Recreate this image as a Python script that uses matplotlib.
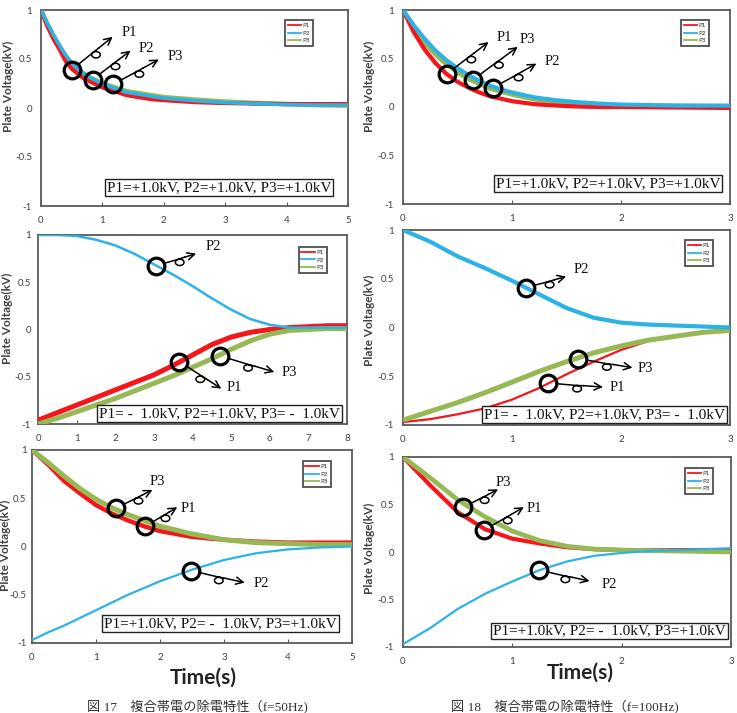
import numpy as np
import matplotlib
matplotlib.use("Agg")
import matplotlib.pyplot as plt
from matplotlib.transforms import ScaledTranslation
from matplotlib.patches import FancyArrowPatch
from matplotlib.lines import Line2D

# ---------------- data ----------------
# Panel 1: f=50Hz, P1=+1, P2=+1, P3=+1
t1 = [0, 0.1, 0.2, 0.3, 0.4, 0.5, 0.6, 0.7, 0.8, 0.9, 1.0, 1.2, 1.4, 1.6, 1.8, 2.0, 2.5, 3.0, 3.5, 4.0, 4.5, 5.0]
p1_1 = [1.0, 0.84, 0.71, 0.60, 0.48, 0.40, 0.35, 0.30, 0.27, 0.24, 0.21, 0.17, 0.13, 0.11, 0.09, 0.08, 0.06, 0.05, 0.045, 0.04, 0.04, 0.04]
p2_1 = [1.0, 0.87, 0.75, 0.64, 0.54, 0.46, 0.40, 0.35, 0.31, 0.28, 0.25, 0.20, 0.16, 0.14, 0.12, 0.10, 0.075, 0.055, 0.045, 0.035, 0.03, 0.03]
p3_1 = [1.0, 0.86, 0.74, 0.63, 0.53, 0.45, 0.39, 0.35, 0.31, 0.28, 0.25, 0.21, 0.17, 0.15, 0.13, 0.11, 0.085, 0.065, 0.05, 0.04, 0.03, 0.025]

# Panel 2: f=100Hz, P1=+1, P2=+1, P3=+1
t2 = [0, 0.1, 0.2, 0.3, 0.4, 0.5, 0.6, 0.7, 0.8, 0.9, 1.0, 1.2, 1.4, 1.6, 1.8, 2.0, 2.5, 3.0]
p1_2 = [1.0, 0.77, 0.59, 0.45, 0.34, 0.26, 0.20, 0.15, 0.11, 0.085, 0.06, 0.03, 0.015, 0.005, 0.0, 0.0, -0.005, -0.01]
p2_2 = [1.0, 0.84, 0.70, 0.58, 0.48, 0.40, 0.33, 0.27, 0.22, 0.18, 0.15, 0.10, 0.07, 0.05, 0.035, 0.025, 0.015, 0.015]
p3_2 = [1.0, 0.81, 0.66, 0.54, 0.44, 0.36, 0.29, 0.24, 0.19, 0.16, 0.13, 0.08, 0.05, 0.035, 0.02, 0.015, 0.01, 0.005]

# Panel 3: f=50Hz, P1=-1, P2=+1, P3=-1
t3 = [0, 0.5, 1, 1.5, 2, 2.5, 3, 3.5, 4, 4.5, 5, 5.5, 6, 6.5, 7, 7.5, 8]
p1_3 = [-0.96, -0.88, -0.80, -0.72, -0.64, -0.56, -0.48, -0.38, -0.27, -0.16, -0.08, -0.03, 0.0, 0.02, 0.03, 0.04, 0.04]
p2_3 = [1.0, 1.0, 0.99, 0.95, 0.89, 0.80, 0.69, 0.58, 0.46, 0.33, 0.21, 0.11, 0.05, 0.02, 0.02, 0.02, 0.02]
p3_3 = [-1.0, -0.94, -0.87, -0.80, -0.73, -0.65, -0.57, -0.49, -0.40, -0.31, -0.21, -0.12, -0.05, -0.01, 0.0, 0.01, 0.01]

# Panel 4: f=100Hz, P1=-1, P2=+1, P3=-1
t4 = [0, 0.25, 0.5, 0.75, 1.0, 1.25, 1.5, 1.75, 2.0, 2.25, 2.5, 2.75, 3.0]
p1_4 = [-0.97, -0.94, -0.89, -0.83, -0.74, -0.62, -0.48, -0.35, -0.23, -0.14, -0.09, -0.05, -0.03]
p2_4 = [1.0, 0.88, 0.73, 0.61, 0.48, 0.34, 0.20, 0.10, 0.05, 0.03, 0.02, 0.01, 0.0]
p3_4 = [-0.95, -0.86, -0.77, -0.67, -0.56, -0.45, -0.35, -0.26, -0.19, -0.13, -0.09, -0.05, -0.03]

# Panel 5: f=50Hz, P1=+1, P2=-1, P3=+1
t5 = [0, 0.25, 0.5, 0.75, 1.0, 1.25, 1.5, 1.75, 2.0, 2.5, 3.0, 3.5, 4.0, 4.5, 5.0]
p1_5 = [1.0, 0.85, 0.68, 0.55, 0.43, 0.34, 0.27, 0.21, 0.16, 0.10, 0.07, 0.05, 0.04, 0.04, 0.04]
p2_5 = [-0.97, -0.89, -0.82, -0.74, -0.66, -0.58, -0.50, -0.43, -0.36, -0.24, -0.14, -0.07, -0.03, -0.01, 0.0]
p3_5 = [1.0, 0.87, 0.73, 0.60, 0.49, 0.40, 0.33, 0.27, 0.21, 0.13, 0.07, 0.04, 0.03, 0.02, 0.02]

# Panel 6: f=100Hz, P1=+1, P2=-1, P3=+1
t6 = [0, 0.25, 0.5, 0.75, 1.0, 1.25, 1.5, 1.75, 2.0, 2.25, 2.5, 2.75, 3.0]
p1_6 = [1.0, 0.70, 0.42, 0.24, 0.14, 0.09, 0.05, 0.03, 0.02, 0.02, 0.02, 0.02, 0.02]
p2_6 = [-0.97, -0.80, -0.60, -0.44, -0.31, -0.19, -0.10, -0.04, -0.01, 0.01, 0.02, 0.03, 0.04]
p3_6 = [1.0, 0.78, 0.55, 0.37, 0.22, 0.12, 0.06, 0.03, 0.02, 0.015, 0.01, 0.005, 0.0]

series_names = ["P1", "P2", "P3"]
xticks_list = [[0, 1, 2, 3, 4, 5], [0, 1, 2, 3], [0, 1, 2, 3, 4, 5, 6, 7, 8],
               [0, 1, 2, 3], [0, 1, 2, 3, 4, 5], [0, 1, 2, 3]]
yticks = [-1, -0.5, 0, 0.5, 1]
ytick_labels = ["-1", "-0.5", "0", "0.5", "1"]

NEG = " - "
box_texts = [
    "P1=+1.0kV, P2=+1.0kV, P3=+1.0kV",
    "P1=+1.0kV, P2=+1.0kV, P3=+1.0kV",
    f"P1={NEG} 1.0kV, P2=+1.0kV, P3={NEG} 1.0kV",
    f"P1={NEG} 1.0kV, P2=+1.0kV, P3={NEG} 1.0kV",
    f"P1=+1.0kV, P2={NEG} 1.0kV, P3=+1.0kV",
    f"P1=+1.0kV, P2={NEG} 1.0kV, P3=+1.0kV",
]
ylabel_text = "Plate Voltage(kV)"
xlabel_text = "Time(s)"
captions = ["図 17　複合帯電の除電特性（f=50Hz)", "図 18　複合帯電の除電特性（f=100Hz)"]

# annotation points: (label, x, y)
marks = [
    [("P1", 0.50, 0.39), ("P2", 0.84, 0.29), ("P3", 1.17, 0.24)],
    [("P1", 0.40, 0.34), ("P3", 0.64, 0.28), ("P2", 0.83, 0.20)],
    [("P2", 3.06, 0.675), ("P1", 3.66, -0.34), ("P3", 4.72, -0.28)],
    [("P2", 1.13, 0.41), ("P3", 1.61, -0.32), ("P1", 1.33, -0.57)],
    [("P3", 1.32, 0.40), ("P1", 1.77, 0.21), ("P2", 2.48, -0.25)],
    [("P3", 0.55, 0.47), ("P1", 0.74, 0.23), ("P2", 1.24, -0.19)],
]

# ---------------- layout / style ----------------
W, H = 737, 713
DPI = 100
fig = plt.figure(figsize=(W / DPI, H / DPI), dpi=DPI)
fig.patch.set_facecolor("white")

# axes rectangles in pixels: left, right, top, bottom
rects = [(41, 348, 10, 206), (403, 730, 10, 204), (38, 347, 235, 424),
         (403, 730, 230, 425), (32, 352, 450, 643), (403, 731, 457, 647)]
ytick_pad = [6.5, 6.5, 5.0, 6.5, 4.0, 6.5]
# arrow end offsets and label offsets (pixels, y up), per mark
arrow_offsets = [
    [((41, 33), (58, 37)), ((38, 29), (54, 31)), ((46, 25), (63, 28))],
    [((42, 32), (58, 37)), ((45, 33), (55, 40)), ((43, 24), (59, 26))],
    [((40, 12), (57, 19)), ((42, -27), (55, -26)), ((54, -16), (69, -17))],
    [((40, 11), (55, 18)), ((54, -9), (67, -10)), ((55, -4), (69, -4))],
    [((36, 18), (41, 26)), ((32, 19), (43, 18)), ((54, -12), (71, -13))],
    [((35, 18), (40, 25)), ((40, 23), (50, 22)), ((51, -11), (71, -14))],
]
legend_anchor = [(0.886, 0.949), (0.936, 0.948), (0.935, 0.937),
                 (0.948, 0.949), (0.934, 0.943), (0.945, 0.942)]
box_anchor = [(0.945, 0.062), (0.970, 0.072), (0.978, 0.02),
              (0.985, 0.02), (0.953, 0.068), (0.985, 0.05)]
ylabel_pos = [(8, 86), (369, 86), (7, 318), (369, 320), (5, 545), (369, 548)]

C_RED = "#f5161b"
C_CYAN = "#2db2e6"
C_GREEN = "#97b955"
colors = [C_RED, C_CYAN, C_GREEN]
lw_sets = [(3.0, 2.6, 3.4), (3.0, 3.0, 3.4), (3.6, 1.8, 3.6),
           (1.6, 3.0, 3.6), (3.2, 1.6, 3.6), (3.0, 1.6, 3.4)]

all_data = [
    (t1, [p1_1, p2_1, p3_1]),
    (t2, [p1_2, p2_2, p3_2]),
    (t3, [p1_3, p2_3, p3_3]),
    (t4, [p1_4, p2_4, p3_4]),
    (t5, [p1_5, p2_5, p3_5]),
    (t6, [p1_6, p2_6, p3_6]),
]

SERIF = ["Liberation Serif", "Noto Sans CJK JP"]
SANS = ["Lato", "DejaVu Sans"]
FRAME = "#595959"


def loop_arrow(ax, cx, cy, end, lab_off, label):
    trans = fig.dpi_scale_trans + ScaledTranslation(cx, cy, ax.transData)
    ex, ey = end
    L = np.hypot(ex, ey)
    ux, uy = ex / L, ey / L
    r0 = 8.5
    sx, sy = ux * r0, uy * r0
    mx, my = sx + 0.45 * (ex - sx), sy + 0.45 * (ey - sy)
    nx, ny = uy, -ux  # points "below" the line
    rl = 3.2
    ccx, ccy = mx + nx * rl * 1.1, my + ny * rl * 1.1
    a0 = np.arctan2(-ny, -nx)
    ang = np.linspace(a0, a0 + 2 * np.pi, 30)
    lx = [sx] + list(ccx + 1.35 * rl * np.cos(ang)) + [mx + ux * 6]
    ly = [sy] + list(ccy + rl * np.sin(ang)) + [my + uy * 6]
    xs = np.array(lx) / DPI
    ys = np.array(ly) / DPI
    ln = Line2D(xs, ys, transform=trans, color="black", lw=1.1, clip_on=False, zorder=6)
    ax.add_artist(ln)
    arr = FancyArrowPatch(((mx + ux * 6) / DPI, (my + uy * 6) / DPI), (ex / DPI, ey / DPI),
                          transform=trans, arrowstyle="->", mutation_scale=13,
                          lw=1.1, color="black", shrinkA=0, shrinkB=0, clip_on=False, zorder=6)
    ax.add_artist(arr)
    ax.plot([cx], [cy], "o", ms=12, mfc="none", mec="black", mew=2.3, zorder=7, clip_on=False)
    ax.annotate(label, xy=(cx, cy), xytext=lab_off, textcoords="offset pixels",
                ha="center", va="center", fontsize=10.5, family=SERIF, color="#111111", zorder=8)


for i, (rect, (t, ys)) in enumerate(zip(rects, all_data)):
    l, r, tp, bt = rect
    ax = fig.add_axes([l / W, 1 - bt / H, (r - l) / W, (bt - tp) / H])
    order = [2, 0, 1] if i in (0, 1) else [0, 2, 1]
    for k in order:
        ax.plot(t, ys[k], color=colors[k], lw=lw_sets[i][k], solid_capstyle="butt",
                label=series_names[k], zorder=3)
    xt = xticks_list[i]
    ax.set_xlim(xt[0], xt[-1])
    ax.set_ylim(-1, 1)
    ax.set_xticks(xt)
    ax.set_xticklabels([str(v) for v in xt], family=SANS)
    ax.set_yticks(yticks)
    ax.set_yticklabels(ytick_labels, family=SANS)
    ax.tick_params(axis="x", length=3, width=0.8, color=FRAME, direction="in",
                   labelsize=7, labelcolor="#404040", pad=7)
    ax.tick_params(axis="y", length=0, labelsize=7, labelcolor="#404040", pad=ytick_pad[i])
    for s in ax.spines.values():
        s.set_color(FRAME)
        s.set_linewidth(1.3)

    leg_handles = [Line2D([], [], color=colors[k], lw=1.3) for k in range(3)]
    leg = ax.legend(leg_handles, series_names, loc="upper right", bbox_to_anchor=legend_anchor[i],
                    prop={"size": 4.5}, handlelength=2.2, handletextpad=0.2, labelspacing=0.35,
                    borderpad=0.45, borderaxespad=0, fancybox=False, frameon=True)
    leg.get_frame().set_edgecolor("#222222")
    leg.get_frame().set_linewidth(1.3)
    for txt in leg.get_texts():
        txt.set_color("#333333")

    bx, by = box_anchor[i]
    ax.text(bx, by, box_texts[i], transform=ax.transAxes, ha="right", va="bottom",
            fontsize=11, family=SERIF, color="#111111", zorder=9,
            bbox=dict(boxstyle="square,pad=0.12", facecolor="white", edgecolor="#222222", lw=1.0))

    for (lab, cx, cy), (end, loff) in zip(marks[i], arrow_offsets[i]):
        loop_arrow(ax, cx, cy, end, loff, lab)

    yx, yy = ylabel_pos[i]
    fig.text(yx / W, 1 - yy / H, ylabel_text, rotation=90, ha="center", va="center",
             fontsize=8.5, fontweight="bold", family=SANS, color="#404040")

# x-axis titles
for xc, yc in [(203, 678), (580, 673)]:
    fig.text(xc / W, 1 - yc / H, xlabel_text, ha="center", va="center", fontsize=15,
             fontweight="bold", family=["Liberation Sans Narrow", "Lato", "DejaVu Sans"],
             color="#222222")

# captions
fig.text(197 / W, 1 - 707 / H, captions[0], ha="center", va="center", fontsize=9.5,
         family=SERIF, color="#333333")
fig.text(565 / W, 1 - 707 / H, captions[1], ha="center", va="center", fontsize=9.5,
         family=SERIF, color="#333333")

fig.savefig("out.png", dpi=DPI, facecolor="white")
